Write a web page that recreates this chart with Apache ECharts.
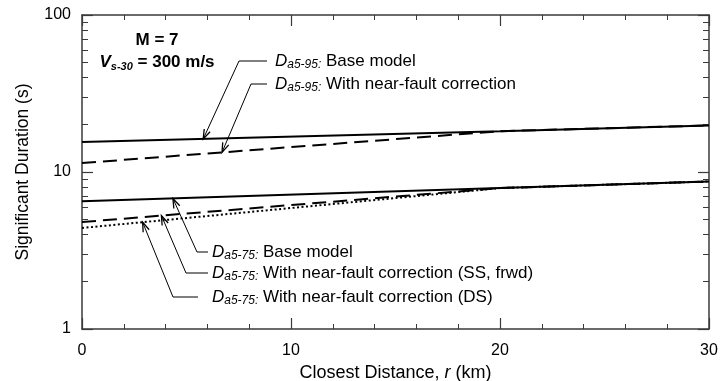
<!DOCTYPE html>
<html>
<head>
<meta charset="utf-8">
<script src="https://cdn.jsdelivr.net/npm/echarts@6/dist/echarts.min.js"></script>
<style>
  html, body { margin: 0; padding: 0; background: #fff; }
  #chart { width: 720px; height: 381px; }
</style>
</head>
<body>
<div id="chart"></div>
<script>
// Closest distance (km) at which each curve is sampled
const distance = [0, 20, 30];
// Significant duration (s), Da5-95
const da595Base = [15.5, 18.2, 19.8];
const da595NearFault = [11.4, 18.2, 19.8];
// Significant duration (s), Da5-75
const da575Base = [6.5, 7.9, 8.7];
const da575NearFaultSS = [4.8, 7.9, 8.7];
const da575NearFaultDS = [4.4, 7.9, 8.7];

// Minor ticks of the logarithmic duration axis
const yMinorTicks = [2, 3, 4, 5, 6, 7, 8, 9, 20, 30, 40, 50, 60, 70, 80, 90];

// Callout text
const calloutSub95 = 'a5-95';
const calloutSub75 = 'a5-75';
const callout95 = ['Base model', 'With near-fault correction'];
const callout75 = ['Base model', 'With near-fault correction (SS, frwd)', 'With near-fault correction (DS)'];
// distance along each curve that its callout arrow points to
const calloutR95 = [5.8, 6.7];
const calloutR75 = [4.35, 3.8, 2.9];

const FONT = '"Liberation Sans", Arial, Helvetica, sans-serif';
const AXIS_COLOR = '#3a3a3a';

const pairs = (xs, ys) => xs.map((x, i) => [x, ys[i]]);

const chart = echarts.init(document.getElementById('chart'), null, { renderer: 'canvas' });

const frameLine = () => ({ show: true, onZero: false, lineStyle: { color: AXIS_COLOR, width: 1.5 } });
const majorTick = () => ({ show: true, inside: true, length: 11, lineStyle: { color: AXIS_COLOR, width: 1.2 } });
const xMinorTick = () => ({ show: true, splitNumber: 5, length: 5, lineStyle: { color: AXIS_COLOR, width: 1 } });

function logMinorAxis(position) {
  // log10 value scale over the same range, used only to place the minor log ticks
  return {
    type: 'value', min: 0, max: 2, position: position,
    axisLine: { show: false, onZero: false },
    splitLine: { show: false },
    axisLabel: { show: false },
    axisTick: {
      show: true, inside: true, length: 6,
      customValues: yMinorTicks.map(Math.log10),
      lineStyle: { color: AXIS_COLOR, width: 1 }
    }
  };
}

const option = {
  animation: false,
  backgroundColor: '#fff',
  grid: { left: 82, right: 11, top: 15, bottom: 52, outerBoundsMode: 'none', containLabel: false },
  xAxis: [
    {
      type: 'value', position: 'bottom', min: 0, max: 30, interval: 10,
      axisLine: frameLine(), axisTick: majorTick(), minorTick: xMinorTick(),
      splitLine: { show: false },
      axisLabel: { fontFamily: FONT, fontSize: 16, color: '#000', margin: 14 },
      name: '{n|Closest Distance, }{i|r}{n| (km)}',
      nameLocation: 'middle', nameGap: 32,
      nameTextStyle: {
        rich: {
          n: { fontFamily: FONT, fontSize: 18, color: '#000' },
          i: { fontFamily: FONT, fontSize: 18, color: '#000', fontStyle: 'italic' }
        }
      }
    },
    {
      type: 'value', position: 'top', min: 0, max: 30, interval: 10,
      axisLine: frameLine(), axisTick: majorTick(), minorTick: xMinorTick(),
      splitLine: { show: false },
      axisLabel: { show: false }
    }
  ],
  yAxis: [
    {
      type: 'log', logBase: 10, min: 1, max: 100, position: 'left',
      axisLine: frameLine(), axisTick: majorTick(),
      splitLine: { show: false },
      axisLabel: { fontFamily: FONT, fontSize: 16, color: '#000', margin: 11 },
      name: 'Significant Duration (s)',
      nameLocation: 'middle', nameGap: 50,
      nameTextStyle: { fontFamily: FONT, fontSize: 17.5, color: '#000' }
    },
    {
      type: 'log', logBase: 10, min: 1, max: 100, position: 'right',
      axisLine: frameLine(), axisTick: majorTick(),
      splitLine: { show: false },
      axisLabel: { show: false }
    },
    logMinorAxis('left'),
    logMinorAxis('right')
  ],
  series: [
    {
      name: 'Da5-95 near-fault', type: 'line', data: pairs(distance, da595NearFault),
      showSymbol: false, lineStyle: { color: '#000', width: 2, type: [14, 7] }, z: 2
    },
    {
      name: 'Da5-75 near-fault DS', type: 'line', data: pairs(distance, da575NearFaultDS),
      showSymbol: false, lineStyle: { color: '#000', width: 2, type: [2, 2.5] }, z: 2
    },
    {
      name: 'Da5-75 near-fault SS', type: 'line', data: pairs(distance, da575NearFaultSS),
      showSymbol: false, lineStyle: { color: '#000', width: 2, type: [14, 7] }, z: 2
    },
    {
      name: 'Da5-95 base', type: 'line', data: pairs(distance, da595Base),
      showSymbol: false, lineStyle: { color: '#000', width: 2 }, z: 3
    },
    {
      name: 'Da5-75 base', type: 'line', data: pairs(distance, da575Base),
      showSymbol: false, lineStyle: { color: '#000', width: 2 }, z: 3
    }
  ]
};

chart.setOption(option);

// value of a curve at distance r (curves are straight in log space)
function curveAt(values, r) {
  for (let i = 0; i < distance.length - 1; i++) {
    const x0 = distance[i], x1 = distance[i + 1];
    if (r >= x0 && r <= x1) {
      const t = (r - x0) / (x1 - x0);
      return Math.pow(10, Math.log10(values[i]) + t * (Math.log10(values[i + 1]) - Math.log10(values[i])));
    }
  }
  return values[values.length - 1];
}

const richStyles = {
  d: { fontFamily: FONT, fontSize: 17, fontStyle: 'italic', fill: '#000', lineHeight: 20 },
  s: { fontFamily: FONT, fontSize: 12, fontStyle: 'italic', fill: '#000', lineHeight: 10, verticalAlign: 'bottom' },
  t: { fontFamily: FONT, fontSize: 17, fill: '#000', lineHeight: 20 }
};

function arrowHead(tip, from) {
  const ang = Math.atan2(from[1] - tip[1], from[0] - tip[0]);
  const len = 10, spread = 0.33;
  const a = [tip[0] + len * Math.cos(ang - spread), tip[1] + len * Math.sin(ang - spread)];
  const b = [tip[0] + len * Math.cos(ang + spread), tip[1] + len * Math.sin(ang + spread)];
  return {
    type: 'polyline', silent: true, z: 10,
    shape: { points: [a, tip, b] },
    style: { stroke: '#000', lineWidth: 1.3, fill: null }
  };
}

function callout(values, r, elbow, lineEnd, textPos, sub, label) {
  const tip = chart.convertToPixel({ xAxisIndex: 0, yAxisIndex: 0 }, [r, curveAt(values, r)]);
  return [
    {
      type: 'polyline', silent: true, z: 10,
      shape: { points: [tip, elbow, lineEnd] },
      style: { stroke: '#000', lineWidth: 1, fill: null }
    },
    arrowHead(tip, elbow),
    {
      type: 'text', silent: true, z: 10, x: textPos[0], y: textPos[1],
      style: {
        text: '{d|D}{s|' + sub + ':}{t| ' + label + '}',
        rich: richStyles, align: 'left', verticalAlign: 'middle'
      }
    }
  ];
}

const graphics = [].concat(
  callout(da595Base, calloutR95[0], [239, 61], [267, 61], [275, 61], calloutSub95, callout95[0]),
  callout(da595NearFault, calloutR95[1], [251, 84], [267, 84], [275, 84], calloutSub95, callout95[1]),
  callout(da575Base, calloutR75[0], [197, 252], [208, 252], [212, 252], calloutSub75, callout75[0]),
  callout(da575NearFaultSS, calloutR75[1], [186, 273], [208, 273], [212, 273], calloutSub75, callout75[1]),
  callout(da575NearFaultDS, calloutR75[2], [173, 297], [198, 297], [212, 297], calloutSub75, callout75[2]),
  [
    {
      type: 'text', silent: true, z: 10, x: 157, y: 40,
      style: { text: 'M = 7', fontFamily: FONT, fontSize: 17, fontWeight: 'bold', fill: '#000', align: 'center', verticalAlign: 'middle' }
    },
    {
      type: 'text', silent: true, z: 10, x: 157, y: 62,
      style: {
        text: '{v|V}{s|s-30}{t| = 300 m/s}',
        align: 'center', verticalAlign: 'middle',
        rich: {
          v: { fontFamily: FONT, fontSize: 17, fontWeight: 'bold', fontStyle: 'italic', fill: '#000', lineHeight: 20 },
          s: { fontFamily: FONT, fontSize: 11, fontWeight: 'bold', fontStyle: 'italic', fill: '#000', lineHeight: 10, verticalAlign: 'bottom' },
          t: { fontFamily: FONT, fontSize: 17, fontWeight: 'bold', fill: '#000', lineHeight: 20 }
        }
      }
    }
  ]
);

chart.setOption({ graphic: graphics });
</script>
</body>
</html>
